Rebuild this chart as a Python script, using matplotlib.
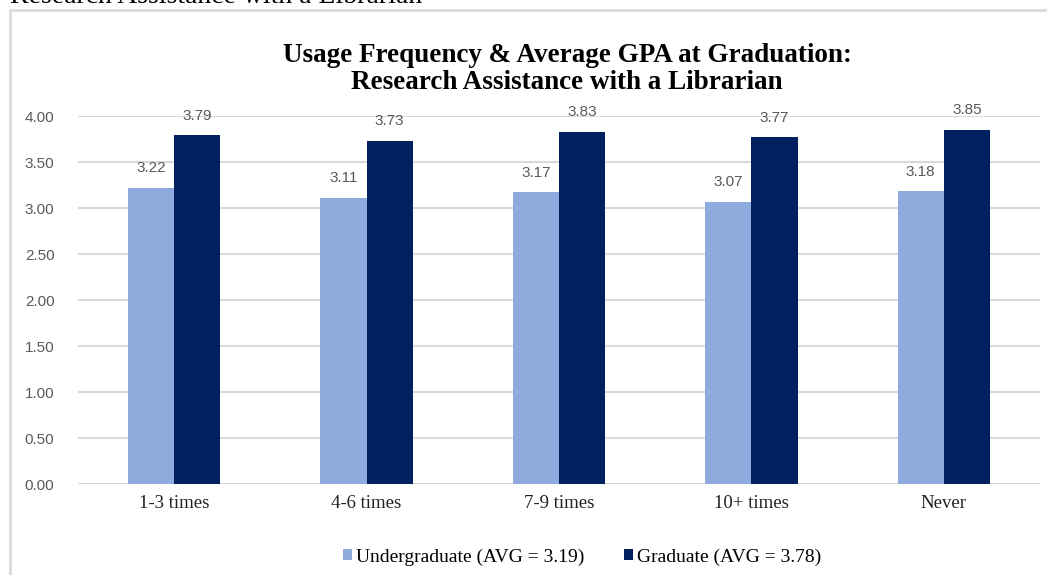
#!/usr/bin/env python3
"""Usage frequency vs. average GPA at graduation, grouped bars."""

import matplotlib
matplotlib.use('Agg')
import matplotlib.pyplot as plt
import matplotlib.patches as patches
import numpy as np

categories = ['1-3 times', '4-6 times', '7-9 times', '10+ times', 'Never']
undergrad = [3.22, 3.11, 3.17, 3.07, 3.18]
graduate = [3.79, 3.73, 3.83, 3.77, 3.85]
yticks = [0.0, 0.5, 1.0, 1.5, 2.0, 2.5, 3.0, 3.5, 4.0]
series_labels = ['Undergraduate (AVG = 3.19)', 'Graduate (AVG = 3.78)']
title = 'Usage Frequency & Average GPA at Graduation:\nResearch Assistance with a Librarian'

SERIF = 'Liberation Serif'
SANS = 'Liberation Sans'
GRID = '#D9D9D9'
LABEL_GREY = '#595959'

W, H = 1047, 575
fig = plt.figure(figsize=(W / 100, H / 100), dpi=100)
fig.patch.set_facecolor('white')

# caption above the chart, mostly cropped off in the source
fig.text(10 / W, 1 - 3 / H, 'Research Assistance with a Librarian',
         family=SERIF, fontsize=20, va='baseline', ha='left', color='black')

# chart frame (right and bottom edges fall outside the picture)
frame = patches.Rectangle((10 / W, -0.2), 1.2, 1 - 10 / H + 0.2,
                          transform=fig.transFigure, fill=False,
                          edgecolor=GRID, linewidth=2)
fig.add_artist(frame)

ax = fig.add_axes([78 / W, 91 / H, 962 / W, 368 / H])
x = np.arange(len(categories))
bw = 0.24
b1 = ax.bar(x - bw / 2, undergrad, bw, color='#8FAADC', zorder=3,
            label=series_labels[0])
b2 = ax.bar(x + bw / 2, graduate, bw, color='#002060', zorder=3,
            label=series_labels[1])

for bars in (b1, b2):
    ax.bar_label(bars, labels=[f'{v:.2f}' for v in bars.datavalues],
                 padding=9, family=SANS, fontsize=11, color=LABEL_GREY)

ax.set_xlim(-0.5, len(categories) - 0.5)
ax.set_ylim(0, 4.0)
ax.set_yticks(yticks)
ax.set_yticklabels([f'{t:.2f}' for t in yticks], family=SANS,
                   fontsize=11, color=LABEL_GREY)
ax.set_xticks(x)
ax.set_xticklabels(categories, family=SERIF, fontsize=13.5, color='#222222')
ax.tick_params(axis='both', length=0)
ax.tick_params(axis='y', pad=17)
ax.tick_params(axis='x', pad=8)
ax.grid(axis='y', color=GRID, linewidth=1.5, zorder=0)
for s in ax.spines.values():
    s.set_visible(False)

fig.text(567 / W, 1 - 69 / H, title, family=SERIF, fontweight='bold',
         fontsize=19.5, ha='center', va='center', linespacing=1.12)

fig.legend(handles=[b1, b2], loc='center', bbox_to_anchor=(582 / W, 1 - 557 / H),
           ncol=2, frameon=False, prop={'family': SERIF, 'size': 14},
           handlelength=0.5, handleheight=0.5, handletextpad=0.2,
           columnspacing=2.0)

fig.savefig('out.png', dpi=100, facecolor='white')
